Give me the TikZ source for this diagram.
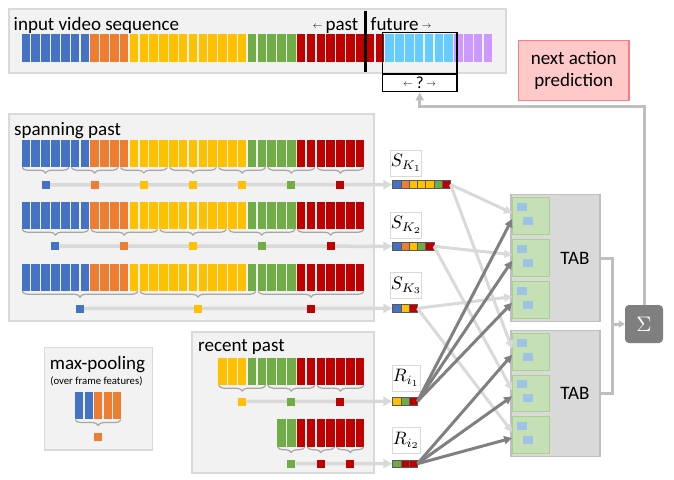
\RequirePackage{fix-cm}
\documentclass[tikz,border=0pt]{standalone}
\usepackage{fontspec}
\setmainfont{Carlito}
\usetikzlibrary{positioning,arrows.meta,decorations.pathreplacing}
\definecolor{cblue}{HTML}{4472C4}
\definecolor{corange}{HTML}{ED7D31}
\definecolor{cyellow}{HTML}{FFC000}
\definecolor{cgreen}{HTML}{70AD47}
\definecolor{cred}{HTML}{C00000}
\definecolor{cfut}{HTML}{66CCFF}
\definecolor{cpurple}{HTML}{CC99FF}
\definecolor{cpanel}{HTML}{F2F2F2}
\definecolor{cpanelln}{HTML}{D9D9D9}
\definecolor{cbrace}{HTML}{A6A6A6}
\definecolor{cwire}{HTML}{D9D9D9}
\definecolor{cdark}{HTML}{808080}
\definecolor{cout}{HTML}{BFBFBF}
\definecolor{ccell}{HTML}{595959}
\definecolor{ctab}{HTML}{D9D9D9}
\definecolor{ctabln}{HTML}{BFBFBF}
\definecolor{csub}{HTML}{C5E0B4}
\definecolor{csubln}{HTML}{A9D18E}
\definecolor{cq}{HTML}{9DC3E6}
\definecolor{cpink}{HTML}{FFC9C9}
\definecolor{cpinkln}{HTML}{FF7C80}
\definecolor{csum}{HTML}{7F7F7F}
\pgfdeclarelayer{back}
\pgfdeclarelayer{wires}
\pgfsetlayers{back,wires,main}
\tikzset{panel/.style={fill=cpanel,draw=cpanelln,line width=1.5pt},
  txt/.style={inner sep=0pt},
  pool/.style={rectangle,minimum size=8pt,inner sep=0pt},
  vec/.style={rectangle,minimum height=7.6pt,inner sep=0pt,anchor=west},
  cell/.style={rectangle,draw=ccell,line width=0.6pt,minimum width=8.25pt,minimum height=7.6pt,inner sep=0pt,anchor=west},
  lbl/.style={rectangle,draw=cpanelln,fill=white,line width=1pt,minimum width=28pt,minimum height=26pt,inner sep=0pt},
  brc/.style={decorate,decoration={brace,mirror,amplitude=5.5pt},draw=cbrace,line width=1.2pt},
  feed/.style={draw=cwire,line width=3.5pt,-{Triangle[length=9pt,width=9pt]}},
  lite/.style={draw=cwire,line width=3pt,-{Triangle[length=8pt,width=8pt]}},
  dark/.style={draw=cdark,line width=3pt,-{Triangle[length=8pt,width=8pt]}},
  outl/.style={draw=cout,line width=3pt},
  tab/.style={rectangle,fill=ctab,draw=ctabln,line width=1.5pt,minimum width=89pt,inner sep=0pt},
  sub/.style={rectangle,fill=csub,draw=csubln,line width=1pt,minimum width=37.3pt,minimum height=36.6pt,inner sep=0pt},
  sig/.style={rectangle,rounded corners=4pt,fill=csum,text=white,minimum size=38pt,inner sep=0pt},
  futbox/.style={rectangle,draw=black,line width=1.5pt,minimum width=74.7pt,inner sep=0pt},
  pred/.style={rectangle,fill=cpink,draw=cpinkln,line width=1.5pt,minimum width=110.7pt,minimum height=60pt,align=center,inner sep=0pt}}
\newcommand{\framecolor}[1]{\ifnum#1<7 cblue\else\ifnum#1<11 corange\else\ifnum#1<23 cyellow\else\ifnum#1<28 cgreen\else\ifnum#1<37 cred\else\ifnum#1<44 cfut\else cpurple\fi\fi\fi\fi\fi\fi}
\newcommand{\framerow}[3]{%
  \foreach \i in {#2,...,#3}{%
    \edef\fc{\framecolor{\i}}%
    \fill[fill=\fc] ({21+\i*9.83+0.65},#1) rectangle ({21+\i*9.83+9.18},{#1+27.5});}}
\newcommand{\poolrow}[4]{%
  \foreach \a/\b/\c [count=\k] in {#4}{%
    \draw[brc] ({21+\a*9.83+1.2},#2) -- ({21+\b*9.83-1.2},#2);
    \node[pool,fill=\c] (#1\k) at ({21+(\a+\b)*4.915},#3) {};}}
\newcommand{\mscale}[2]{\scalebox{#1}{\fontsize{10}{12}\selectfont$#2$}}
\newcommand{\arrl}{\raisebox{2pt}{\mscale{0.95}{\leftarrow}}}
\newcommand{\arrr}{\raisebox{2pt}{\mscale{0.95}{\rightarrow}}}

\begin{document}
\begin{tikzpicture}[x=1pt,y=-1pt,font=\fontsize{19}{22}\selectfont]
    \useasboundingbox (0,0) rectangle (674,479);
    \begin{pgfonlayer}{back}
    \draw[panel] (9,9) rectangle (506,73);
    \draw[panel] (9,114) rectangle (374,321);
    \draw[panel] (192,332) rectangle (374,473);
    \draw[panel] (44.3,347.3) rectangle (152.7,450);
    \end{pgfonlayer}

    \framerow{34.3}{0}{47}
    \framerow{139.5}{0}{34}
    \framerow{201.5}{0}{34}
    \framerow{263.5}{0}{34}
    \framerow{357.5}{20}{34}
    \framerow{419}{26}{34}

    \draw[line width=3pt] (365,11) -- (365,72);
    \node[futbox,minimum height=41.8pt] (fut) at (419.7,53.2) {};
    \node[futbox,fill=white,minimum height=17.6pt,font=\fontsize{17}{17}\selectfont] (q) at (419.7,82.9) {\arrl\,?\,\arrr};

    \node[txt,anchor=base west] (tin) at (13.5,30.5) {input video sequence};
    \node[txt,anchor=base east] (tpast) at (358.5,30.5) {\arrl\,past};
    \node[txt,anchor=base west] (tfut) at (370.5,30.5) {future\,\arrr};
    \node[txt,anchor=base west] (tspan) at (14,135) {spanning past};
    \node[txt,anchor=base west] (trec) at (198,351) {recent past};
    \node[txt,anchor=base] (tmax) at (97.5,369.3) {max-pooling};
    \node[txt,anchor=base,font=\fontsize{10.7}{12}\selectfont] (tover) at (96.4,384.3) {(over frame features)};

    \poolrow{p1}{167.5}{185}{0/5/cblue,5/10/corange,10/15/cyellow,15/20/cyellow,20/25/cyellow,25/30/cgreen,30/35/cred}
    \poolrow{p2}{229.5}{246}{0/7/cblue,7/14/corange,14/21/cyellow,21/28/cgreen,28/35/cred}
    \poolrow{p3}{291.5}{308.5}{0/12/cblue,12/24/cyellow,24/35/cred}
    \poolrow{r1}{385.5}{401.5}{20/25/cyellow,25/30/cgreen,30/35/cred}
    \poolrow{r2}{447}{463.5}{26/29/cgreen,29/32/cred,32/35/cred}

    \foreach \c [count=\k from 0] in {cblue,cblue,corange,corange,corange}
        \fill[fill=\c] ({74.3+\k*9.55+0.65},391.7) rectangle ({74.3+\k*9.55+8.9},419.3);
    \draw[brc] (75.3,419.8) -- (121,419.8);
    \node[pool,fill=corange] (mp) at (98.2,437) {};

    \node[vec,minimum width=57.75pt] (sk1) at (392.3,184.5) {};
    \node[vec,minimum width=41.25pt] (sk2) at (392.3,246.3) {};
    \node[vec,minimum width=24.75pt] (sk3) at (392.3,308.3) {};
    \node[vec,minimum width=24.75pt] (ri1) at (392.3,401.3) {};
    \node[vec,minimum width=24.75pt] (ri2) at (392.3,463.7) {};
    \foreach \c [count=\k from 0] in {cblue,corange,cyellow,cyellow,cyellow,cgreen,cred}
        \node[cell,fill=\c] at ({392.3+\k*8.25},184.5) {};
    \foreach \c [count=\k from 0] in {cblue,corange,cyellow,cgreen,cred}
        \node[cell,fill=\c] at ({392.3+\k*8.25},246.3) {};
    \foreach \c [count=\k from 0] in {cblue,cyellow,cred}
        \node[cell,fill=\c] at ({392.3+\k*8.25},308.3) {};
    \foreach \c [count=\k from 0] in {cyellow,cgreen,cred}
        \node[cell,fill=\c] at ({392.3+\k*8.25},401.3) {};
    \foreach \c [count=\k from 0] in {cgreen,cred,cred}
        \node[cell,fill=\c] at ({392.3+\k*8.25},463.7) {};

    \node[lbl] (lk1) at (406.3,163) {\mscale{1.8}{S_{K_1}}};
    \node[lbl] (lk2) at (406.3,225) {\mscale{1.8}{S_{K_2}}};
    \node[lbl] (lk3) at (406.3,285.5) {\mscale{1.8}{S_{K_3}}};
    \node[lbl] (li1) at (406.3,378) {\mscale{1.8}{R_{i_1}}};
    \node[lbl] (li2) at (406.3,440.5) {\mscale{1.8}{R_{i_2}}};

    \begin{pgfonlayer}{wires}
    \draw[feed] (p11) -- (sk1);
    \draw[feed] (p21) -- (sk2);
    \draw[feed] (p31) -- (sk3);
    \draw[feed] (r11) -- (ri1);
    \draw[feed] (r21) -- (ri2);
    \end{pgfonlayer}

    \node[tab,minimum height=127.4pt] (tab1) at (555.5,258) {};
    \node[tab,minimum height=126pt] (tab2) at (555.5,393.7) {};
    \node[txt] (ttab1) at (575,258) {TAB};
    \node[txt] (ttab2) at (575,393.7) {TAB};
    \foreach \n/\y in {t1b1/216,t1b2/257.7,t1b3/299.7,t2b1/351.7,t2b2/393.3,t2b3/435}{
        \node[sub] (\n) at (531.3,\y) {};
        \fill[cq] ([shift={(4.7,5.7)}]\n.north west) rectangle +(10.3,8);
        \fill[cq] ([shift={(10.7,19.7)}]\n.north west) rectangle +(10,8);
    }

    \draw[lite] (sk1.east) -- ([yshift=3pt]t1b1.west);
    \draw[lite] (sk1.east) -- ([yshift=3pt]t2b1.west);
    \draw[lite] (sk2.east) -- ([yshift=3pt]t1b2.west);
    \draw[lite] (sk2.east) -- ([yshift=3pt]t2b2.west);
    \draw[lite] (sk3.east) -- ([yshift=3pt]t1b3.west);
    \draw[lite] (sk3.east) -- ([yshift=3pt]t2b3.west);
    \foreach \k in {1,2,3}{
        \draw[dark] (ri1.east) -- ([yshift=-3pt]t1b\k.west);
        \draw[dark] (ri2.east) -- ([yshift=-3pt]t2b\k.west);
    }

    \node[sig] (sum) at (644,324) {\mscale{2.1}{\Sigma}};
    \coordinate (jn) at (612.7,324);
    \coordinate (fb) at (419.7,106);
    \draw[outl] (tab1.east) -| (jn) |- (tab2.east);
    \draw[outl,-{Triangle[length=6pt,width=7pt]}] (jn) -- (sum.west);
    \draw[outl,-{Triangle[length=8pt,width=8pt]}] (sum.north) |- (fb) -- (q.south);

    \node[pred] (pred) at (573.7,70.7) {next action\\prediction};
\end{tikzpicture}
\end{document}
